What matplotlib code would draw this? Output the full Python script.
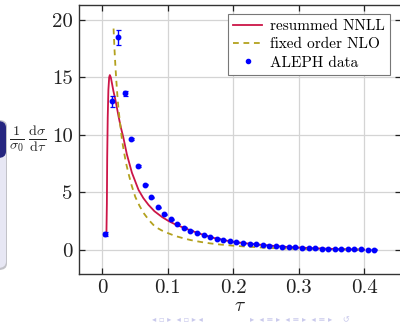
import matplotlib
matplotlib.use("Agg")
import matplotlib.pyplot as plt
from matplotlib.patches import FancyBboxPatch
from matplotlib.lines import Line2D

plt.rcParams['font.family'] = 'serif'
plt.rcParams['font.serif'] = ['cmr10', 'DejaVu Serif']
plt.rcParams['mathtext.fontset'] = 'cm'
plt.rcParams['axes.unicode_minus'] = False

# ALEPH data
data_tau = [0.005, 0.015, 0.025, 0.035, 0.045, 0.055, 0.065, 0.075, 0.085, 0.095,
            0.105, 0.115, 0.125, 0.135, 0.145, 0.155, 0.165, 0.175, 0.185, 0.195,
            0.205, 0.215, 0.225, 0.235, 0.245, 0.255, 0.265, 0.275, 0.285, 0.295,
            0.305, 0.315, 0.325, 0.335, 0.345, 0.355, 0.365, 0.375, 0.385, 0.395,
            0.405, 0.415]
data_val = [1.35, 12.9, 18.5, 13.6, 9.65, 7.3, 5.65, 4.55, 3.7, 3.08,
            2.64, 2.23, 1.92, 1.66, 1.45, 1.27, 1.09, 0.96, 0.84, 0.73,
            0.64, 0.58, 0.52, 0.47, 0.41, 0.36, 0.31, 0.27, 0.23, 0.20,
            0.17, 0.15, 0.12, 0.10, 0.08, 0.06, 0.05, 0.04, 0.03, 0.02,
            0.015, 0.015]
data_err = [0.2, 0.5, 0.65, 0.2, 0.1, 0.08, 0.06, 0.05, 0.04, 0.04,
            0.03, 0.03, 0.03, 0.03, 0.02, 0.02, 0.02, 0.02, 0.02, 0.02,
            0.02, 0.02, 0.02, 0.02, 0.02, 0.02, 0.02, 0.02, 0.02, 0.02,
            0.02, 0.02, 0.02, 0.02, 0.02, 0.02, 0.02, 0.02, 0.02, 0.02,
            0.02, 0.02]

# resummed NNLL curve
nnll_tau = [0.0068, 0.0075, 0.0080, 0.0088, 0.0098, 0.0110, 0.0120, 0.0135, 0.0152,
            0.0175, 0.0203, 0.0230, 0.0253, 0.0290, 0.0325, 0.0380, 0.0457, 0.0558,
            0.0630, 0.0710, 0.0800, 0.0915, 0.1020, 0.1120, 0.125, 0.14, 0.155,
            0.17, 0.185, 0.20, 0.22, 0.24, 0.26, 0.28, 0.30, 0.32, 0.34, 0.36,
            0.38, 0.40]
nnll_val = [1.3, 4.0, 8.0, 11.5, 13.9, 15.0, 15.2, 15.0, 14.5,
            13.8, 13.1, 12.3, 11.6, 10.6, 9.8, 8.3, 6.7, 5.2,
            4.5, 3.9, 3.35, 2.85, 2.48, 2.2, 1.9, 1.58, 1.28,
            1.03, 0.84, 0.69, 0.55, 0.44, 0.34, 0.25, 0.19, 0.14, 0.09, 0.06,
            0.03, 0.01]

# fixed order NLO curve
nlo_tau = [0.0177, 0.0190, 0.0203, 0.0218, 0.0233, 0.0250, 0.0270, 0.0305, 0.0330,
           0.0365, 0.0406, 0.0455, 0.0508, 0.0570, 0.0634, 0.0720, 0.0810, 0.0910,
           0.1015, 0.112, 0.125, 0.135, 0.150, 0.165, 0.18, 0.20, 0.22, 0.246,
           0.282, 0.32, 0.36, 0.40]
nlo_val = [19.25, 17.6, 16.2, 14.8, 13.6, 12.4, 11.3, 9.6, 8.7,
           7.6, 6.6, 5.55, 4.6, 3.85, 3.2, 2.55, 2.0, 1.68,
           1.42, 1.19, 0.98, 0.84, 0.68, 0.55, 0.45, 0.35, 0.27, 0.18,
           0.09, 0.05, 0.02, 0.0]

xticks = [0, 0.1, 0.2, 0.3, 0.4]
xticklabels = ['0', '0.1', '0.2', '0.3', '0.4']
yticks = [0, 5, 10, 15, 20]
yticklabels = ['0', '5', '10', '15', '20']
legend_labels = ['resummed NNLL', 'fixed order NLO', 'ALEPH data']

fig = plt.figure(figsize=(4.0, 3.22), dpi=100)
W, H = 400.0, 322.0

# beamer block remnant on the left edge
shadow = FancyBboxPatch((-20 / W, 1 - 270 / H), 27 / W, 150 / H,
                        boxstyle="round,pad=0,rounding_size=0.02",
                        transform=fig.transFigure, facecolor='#9a9aa4', edgecolor='none',
                        alpha=0.6, zorder=0)
fig.patches.append(shadow)
body = FancyBboxPatch((-20 / W, 1 - 268 / H), 26 / W, 147 / H,
                      boxstyle="round,pad=0,rounding_size=0.02",
                      transform=fig.transFigure, facecolor='#e7e7f4', edgecolor='none',
                      zorder=1)
fig.patches.append(body)
head = FancyBboxPatch((-20 / W, 1 - 158 / H), 26 / W, 37 / H,
                      boxstyle="round,pad=0,rounding_size=0.02",
                      transform=fig.transFigure, facecolor='#262680', edgecolor='none',
                      zorder=2)
fig.patches.append(head)

ax = fig.add_axes([79 / W, 1 - 273.7 / H, 322 / W, (273.7 - 5) / H])
ax.set_xlim(-0.035, 0.456)
ax.set_ylim(-2.09, 21.3)

ax.grid(True, color='#d4d4d4', linewidth=0.9, zorder=0)
ax.set_axisbelow(True)

ax.plot(nnll_tau, nnll_val, color='#cc1547', linewidth=1.3, zorder=3)
ax.plot(nlo_tau, nlo_val, color='#b3a11e', linewidth=1.3, linestyle=(0, (3.2, 2.6)),
        zorder=3)
ax.errorbar(data_tau, data_val, yerr=data_err, fmt='o', color='#0000ff', markersize=3.2,
            elinewidth=1.0, capsize=1.8, capthick=0.9, zorder=4)

ax.set_xticks(xticks)
ax.set_xticklabels(xticklabels)
ax.set_yticks(yticks)
ax.set_yticklabels(yticklabels)
ax.tick_params(direction='in', length=4.5, width=0.9, top=True, right=True,
               labelsize=15, colors='#222222')
ax.tick_params(axis='x', pad=4)
ax.tick_params(axis='y', pad=4.5)
for s in ax.spines.values():
    s.set_color('#333333')
    s.set_linewidth(1.0)

handles = [Line2D([], [], color='#cc1547', linewidth=1.3),
           Line2D([], [], color='#b3a11e', linewidth=1.3, linestyle=(0, (3.2, 2.6))),
           Line2D([], [], color='#0000ff', linestyle='none', marker='o', markersize=3.0)]
leg = ax.legend(handles, legend_labels, loc='upper right', bbox_to_anchor=(0.966, 0.967),
                fontsize=11, frameon=True, fancybox=False, edgecolor='#777777',
                handlelength=1.9, handletextpad=0.5, borderpad=0.35, labelspacing=0.3,
                framealpha=1.0, borderaxespad=0.0)
leg.get_frame().set_linewidth(0.8)

fig.text(28 / W, 1 - 139 / H, r'$\frac{1}{\sigma_0}\,\frac{\mathrm{d}\sigma}{\mathrm{d}\tau}$',
         ha='center', va='center', fontsize=14.5, color='#222222')
fig.text(240 / W, 1 - 306 / H, r'$\tau$', ha='center', va='center', fontsize=14,
         color='#222222')

# faint beamer navigation symbols (split around the axis label)
fig.text(152 / W, 1 - 319 / H, '◂ ▫ ▸  ◂ ▫ ▸ ◂',
         ha='left', va='center', fontsize=6, color='#c9c9ec', family='DejaVu Sans')
fig.text(250 / W, 1 - 319 / H, '▸  ◂ ≡ ▸  ◂ ≡ ▸  ◂ ≡ ▸    ↺',
         ha='left', va='center', fontsize=6, color='#c9c9ec', family='DejaVu Sans')

fig.savefig('out.png', dpi=100)
